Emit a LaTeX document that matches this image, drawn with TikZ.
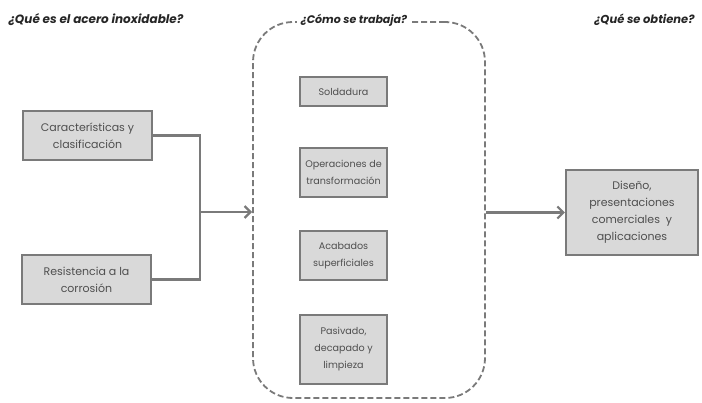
\documentclass[tikz,border=0pt]{standalone}
\usepackage{fontspec}
\setmainfont{Poppins}
\usetikzlibrary{positioning,arrows.meta}
\definecolor{cajagris}{HTML}{D9D9D9}
\definecolor{lineagris}{HTML}{7A7A7A}
\definecolor{textogris}{HTML}{4F4F4F}

\tikzset{
  acero schemes/.style = {
    x=1pt, y=-1pt,
    % Cajas
    caja/.style = {
      draw=lineagris, fill=cajagris, text=textogris,
      line width=2.2pt, align=center, inner sep=1pt,
      font=\fontsize{11}{17}\selectfont
    },
    caja centro/.style = { caja, minimum width=87pt,
      font=\fontsize{9.6}{17}\selectfont },
    % Titulos
    titulo/.style = { font=\bfseries\itshape\fontsize{12}{14}\selectfont, text=black!85 },
    % Lineas, flechas
    connect line/.style = { lineagris, line width=2.2pt },
    arrow line/.style   = { connect line, -{Straight Barb[length=6pt,width=12pt]} },
    marco/.style = { draw=lineagris, line width=1.8pt,
      dash pattern=on 6pt off 3pt, rounded corners=40pt },
  }
}

\begin{document}
\begin{tikzpicture}[acero schemes]
  \useasboundingbox (0,0) rectangle (702,402);

  % marco central
  \node[marco, minimum width=232pt, minimum height=376pt] (marco) at (369,210) {};

  \node[titulo, anchor=west] (tizq) at (5,20) {¿Qué es el acero inoxidable?};
  \node[titulo, fill=white, inner xsep=4pt, font=\bfseries\itshape\fontsize{11}{13}\selectfont]
    (tcen) at (354,20) {¿Cómo se trabaja?};
  \node[titulo, anchor=east, font=\bfseries\itshape\fontsize{11.5}{13}\selectfont]
    (tder) at (698,20) {¿Qué se obtiene?};

  % entradas
  \node[caja, minimum width=129pt, minimum height=49pt] (carac) at (87.5,135.5)
    {Características y\\clasificación};
  \node[caja, minimum width=129pt, minimum height=49pt] (resist) at (86.5,279.5)
    {Resistencia a la\\corrosión};

  % procesos
  \node[caja centro, minimum height=29pt] (sold) at (343.5,91.5) {Soldadura};
  \node[caja centro, minimum height=49pt] (oper) at (343.5,172.5)
    {Operaciones de\\transformación};
  \node[caja centro, minimum height=49pt] (acab) at (343.5,255.5)
    {Acabados\\superficiales};
  \node[caja centro, minimum height=69pt] (pasiv) at (343.5,349.5)
    {Pasivado,\\decapado y\\limpieza};

  % resultado
  \node[caja, minimum width=132pt, minimum height=85pt] (diseno) at (632,212.5)
    {Diseño,\\presentaciones\\comerciales~ y\\aplicaciones};

  \coordinate (junta) at (200,212);
  \draw[connect line] (carac.east) -| (junta) |- (resist.east);
  \draw[arrow line] (junta) -- (junta -| marco.west);
  \draw[arrow line] (diseno.west -| marco.east) -- (diseno.west);
\end{tikzpicture}
\end{document}
